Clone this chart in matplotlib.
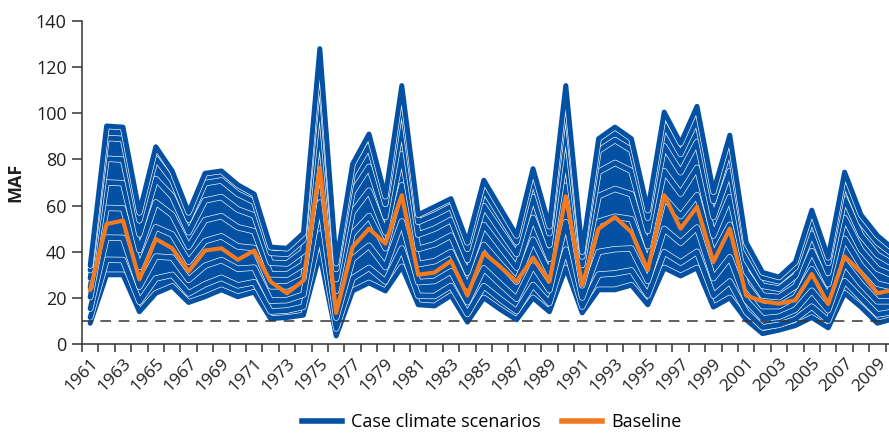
import numpy as np
import matplotlib
matplotlib.use("Agg")
import matplotlib.pyplot as plt
import matplotlib.patheffects as pe
from matplotlib.lines import Line2D

plt.rcParams['font.family'] = ['Open Sans', 'DejaVu Sans']

years = list(range(1961, 2011))

# scenario envelope and a few in-between scenarios
sc_high = [34, 94.5, 94, 57, 85.5, 75, 57, 74, 75, 69, 65, 42, 41.5, 48, 128, 35, 78, 91, 64, 112,
           56, 59.5, 63, 44, 71, 59, 47, 76, 51, 112, 40, 89, 94, 89, 58, 100.5, 87, 103, 66, 90.5,
           44, 31, 29, 35.5, 58, 37.5, 74.5, 56, 47, 41]
sc_92 = [32, 89.3, 88.9, 53.6, 80.4, 71, 53.9, 69.7, 70.9, 65.1, 61.6, 39.5, 39.1, 45.2, 120.9, 32.5, 73.6, 85.8, 60.7, 105.7,
         52.9, 56, 59.6, 41.2, 66.9, 55.5, 44.1, 71.5, 48, 105.7, 37.9, 83.8, 88.4, 84, 54.7, 95.1, 82.4, 97.4, 62, 84.9,
         41.3, 28.9, 27.2, 33.3, 54.3, 35.1, 70.3, 52.8, 44, 38.6]
sc_78 = [28.5, 80.3, 79.9, 47.5, 71.5, 64, 48.4, 62.2, 63.7, 58.3, 55.7, 35.2, 34.9, 40.2, 108.4, 28.1, 65.9, 76.8, 55, 94.7,
         47.4, 50, 53.8, 36.4, 59.8, 49.3, 39, 63.7, 42.9, 94.6, 34.2, 74.6, 78.5, 75, 49, 85.7, 74.4, 87.6, 55, 75,
         36.6, 25.2, 24, 29.5, 47.8, 30.8, 63, 47.2, 38.6, 34.4]
sc_62 = [24.5, 70, 69.7, 40.7, 61.4, 56, 42.2, 53.7, 55.4, 50.6, 48.9, 30.2, 30.1, 34.5, 94.2, 23, 57.1, 66.5, 48.4, 82.2,
         41.2, 43.2, 47, 30.9, 51.6, 42.3, 33.1, 54.7, 36.9, 82, 30, 64.1, 67.2, 64.9, 42.4, 74.9, 65.2, 76.4, 47, 63.7,
         31.3, 21, 20.3, 25, 40.3, 25.9, 54.6, 40.8, 32.6, 29.6]
sc_45 = [20.3, 59, 58.8, 33.4, 50.6, 47.5, 35.6, 44.6, 46.7, 42.3, 41.6, 25, 25, 28.5, 79, 17.7, 47.8, 55.5, 41.5, 68.8,
         34.6, 35.9, 39.9, 25, 43, 34.8, 27, 45.2, 30.7, 68.6, 25.4, 53, 55.2, 54.1, 35.5, 63.4, 55.4, 64.5, 38.5, 51.7,
         25.6, 16.4, 16.4, 20.4, 32.4, 20.7, 45.6, 34, 26.1, 24.5]
sc_25 = [15.3, 46.1, 46, 24.8, 37.9, 37.5, 27.8, 33.9, 36.4, 32.6, 33.1, 18.8, 19, 21.4, 61.3, 11.4, 36.8, 42.6, 33.3, 53.1,
         26.8, 27.3, 31.5, 18.1, 32.8, 26, 19.6, 34, 23.3, 52.8, 20.1, 39.9, 41.1, 41.4, 27.3, 49.9, 43.9, 50.5, 28.5, 37.6,
         18.9, 11.1, 11.8, 14.9, 23.1, 14.6, 35.1, 26, 18.5, 18.5]
sc_10 = [11.5, 36.5, 36.4, 18.3, 28.4, 30, 21.9, 25.9, 28.7, 25.4, 26.8, 14.1, 14.5, 16.1, 47.9, 6.7, 28.5, 33, 27.1, 41.4,
         20.9, 20.8, 25.2, 13, 25.1, 19.4, 14.2, 25.6, 17.7, 40.9, 16.2, 30.1, 30.6, 31.9, 21.1, 39.8, 35.3, 40, 21, 27.1,
         13.9, 7.2, 8.3, 10.8, 16.2, 10.1, 27.3, 20, 12.8, 14]
sc_low = [9, 30, 30, 14, 22, 25, 18, 20.5, 23.5, 20.5, 22.5, 11, 11.5, 12.5, 39, 3.5, 23, 26.5, 23, 33.5,
          17, 16.5, 21, 9.5, 20, 15, 10.5, 20, 14, 33, 13.5, 23.5, 23.5, 25.5, 17, 33, 29.5, 33, 16, 20,
          10.5, 4.5, 6, 8, 11.5, 7, 22, 16, 9, 11]

baseline = [23.5, 52, 53.5, 28, 45.5, 41.5, 31.5, 40.5, 41.5, 36.5, 40.5, 27, 22, 27.5, 76.5, 13.5, 42, 50, 43.5, 64.5,
            30, 31, 36, 21, 39.5, 33.5, 27, 37.5, 27, 64, 25.5, 50, 55, 48.5, 32, 64.5, 50, 59.5, 35.5, 50,
            21, 18.5, 17.5, 19, 30.3, 17.3, 38, 31, 22, 23.5]

threshold = 10

blue = '#0451a3'
orange = '#f47a20'

scenarios = np.array([sc_low, sc_10, sc_25, sc_45, sc_62, sc_78, sc_92, sc_high])
x = np.arange(len(years))

fig = plt.figure(figsize=(8.89, 4.33), dpi=100)
ax = fig.add_axes([82/889, 89/433, 820/889, 323/433])

ax.fill_between(x, scenarios.min(axis=0), scenarios.max(axis=0), color=blue, lw=0, zorder=1)
lw = 3.6
for s in scenarios:
    ax.plot(x, s, color=blue, lw=lw, solid_joinstyle='round', solid_capstyle='round', zorder=2,
            path_effects=[pe.Stroke(linewidth=lw + 0.9, foreground='white'), pe.Normal()])
ax.plot(x, baseline, color=orange, lw=3.0, solid_joinstyle='round', zorder=4)
ax.axhline(threshold, color='#333333', lw=1.1, dashes=(7, 5), zorder=3)

ax.set_xlim(-0.5, len(years) - 0.5)
ax.set_ylim(0, 140)
ax.set_yticks(range(0, 141, 20))
ax.set_xticks(x[::2])
ax.set_xticklabels([str(y) for y in years[::2]], rotation=45, ha='right', va='top',
                   rotation_mode='anchor', fontsize=12.5, color='#231f20')
ax.set_xticks(np.arange(-0.5, len(years), 1), minor=True)
ax.tick_params(axis='x', which='major', length=0, pad=8)
ax.tick_params(axis='x', which='minor', length=6, width=1.1, color='#333333')
ax.tick_params(axis='y', length=7, width=1.1, color='#333333', labelsize=13, labelcolor='#231f20', pad=4)

for side in ['top', 'right']:
    ax.spines[side].set_visible(False)
for side in ['left', 'bottom']:
    ax.spines[side].set_color('#333333')
    ax.spines[side].set_linewidth(1.1)

ax.set_ylabel('MAF', fontsize=13, fontweight='bold', color='#231f20', labelpad=8)

handles = [Line2D([], [], color=blue, lw=4), Line2D([], [], color=orange, lw=4)]
fig.legend(handles, ['Case climate scenarios', 'Baseline'], loc='center', ncol=2,
           bbox_to_anchor=(492/889, 1 - 422/433), frameon=False, fontsize=13,
           handlelength=2.2, columnspacing=1.2, handletextpad=0.5)

fig.savefig('out.png', dpi=100)
